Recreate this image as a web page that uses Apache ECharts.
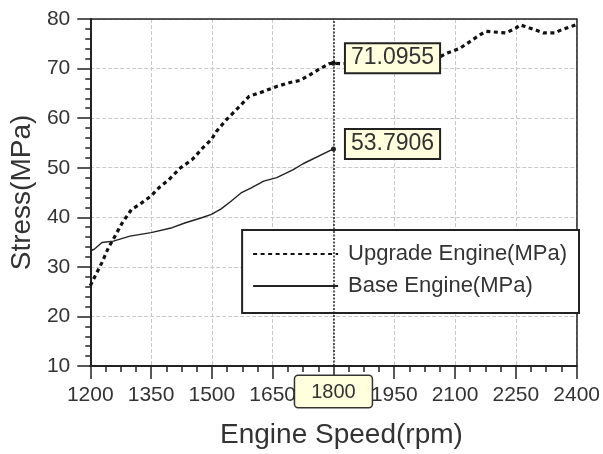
<!DOCTYPE html>
<html>
<head>
<meta charset="utf-8">
<title>Stress vs Engine Speed</title>
<script src="https://cdn.jsdelivr.net/npm/echarts@6/dist/echarts.min.js"></script>
<style>
  html, body { margin: 0; padding: 0; background: #fff; }
  #chart { width: 603px; height: 454px; }
</style>
</head>
<body>
<div id="chart"></div>
<script>
// data
var upgradeRpm = [1200, 1229, 1245, 1261, 1277, 1290, 1302, 1322, 1350, 1370, 1394, 1423, 1451, 1480,
                  1499, 1511, 1536, 1564, 1592, 1628, 1660, 1693, 1717, 1741, 1765, 1790, 1800, 1820,
                  1900, 2000, 2056, 2080, 2112, 2136, 2161, 2177, 2225, 2249, 2261, 2273, 2298, 2318,
                  2346, 2362, 2390, 2400];
var upgradeStress = [26.2, 30.9, 33.9, 36.2, 38.6, 40.2, 41.6, 42.6, 44.3, 46.0, 47.6, 50.0, 51.6, 54.2,
                     55.7, 57.3, 59.7, 62.0, 64.4, 65.4, 66.4, 67.2, 67.6, 68.7, 69.9, 71.0, 71.0955, 71.0,
                     71.3, 71.7, 72.1, 73.1, 74.1, 75.4, 76.8, 77.5, 77.2, 78.1, 78.8, 78.5, 77.8, 77.2,
                     77.2, 77.8, 78.6, 78.9];

var baseRpm = [1200, 1209, 1229, 1257, 1298, 1350, 1402, 1435, 1475, 1499, 1523, 1548, 1572, 1596,
               1628, 1660, 1701, 1725, 1800];
var baseStress = [33.3, 33.5, 34.9, 35.2, 36.2, 36.9, 37.9, 38.9, 39.9, 40.6, 41.7, 43.3, 44.9, 45.9,
                  47.3, 48.0, 49.6, 50.8, 53.7906];

var seriesNames = ['Upgrade Engine(MPa)', 'Base Engine(MPa)'];
var cursorRpm = 1800;

function pairs(xs, ys) {
  return xs.map(function (x, i) { return [x, ys[i]]; });
}

function cursorPoint(xs, ys) {
  var i = xs.indexOf(cursorRpm);
  return { coord: [xs[i], ys[i]], value: ys[i] };
}

// plain numbers, no thousands separator
function plain(v) { return String(Math.round(v)); }

var boxLabel = {
  show: true,
  position: 'right',
  distance: 10,
  offset: [0, -5],
  formatter: function (p) { return p.value.toFixed(4); },
  fontFamily: 'Liberation Sans',
  fontSize: 23,
  color: '#333',
  backgroundColor: '#ffffdd',
  borderColor: '#222',
  borderWidth: 2,
  padding: [3, 5, 2, 5]
};

// top and right edges of the plot frame
var frameLine = { show: true, lineStyle: { color: '#222', width: 1.5 } };

var chart = echarts.init(document.getElementById('chart'));

var option = {
  animation: false,
  textStyle: { fontFamily: 'Liberation Sans' },
  grid: {
    left: 83, right: 24, top: 19, bottom: 87,
    containLabel: false
  },
  legend: {
    data: seriesNames,
    orient: 'vertical',
    right: 24,
    top: 230,
    padding: [13, 12, 16, 10],
    itemGap: 10,
    itemWidth: 85,
    itemHeight: 4,
    backgroundColor: '#fff',
    borderColor: '#222',
    borderWidth: 2,
    borderRadius: 0,
    itemStyle: { opacity: 0 },
    textStyle: { fontSize: 22, color: '#333', padding: [0, 0, 0, 5] }
  },
  xAxis: [{
    type: 'value',
    min: 1200, max: 2400, interval: 150,
    name: 'Engine Speed(rpm)',
    nameLocation: 'middle',
    nameGap: 55,
    nameTextStyle: { fontSize: 28, color: '#333', padding: [0, 0, 0, 16] },
    axisLine: { show: true, lineStyle: { color: '#222', width: 2 } },
    axisTick: { show: true, inside: false, length: 13, lineStyle: { color: '#222', width: 1.5 } },
    minorTick: { show: true, splitNumber: 4, length: 6, lineStyle: { color: '#222', width: 1.5 } },
    axisLabel: { fontSize: 21, color: '#333', margin: 19, formatter: plain },
    splitLine: { show: true, lineStyle: { color: '#c8c8c8', type: [4, 2], width: 1 } },
    axisPointer: {
      show: true,
      type: 'line',
      value: cursorRpm,
      status: 'show',
      snap: false,
      triggerTooltip: false,
      lineStyle: { color: '#222', width: 1.5, type: [2, 1.5] },
      label: {
        show: true,
        formatter: function (p) { return plain(p.value); },
        margin: 10,
        fontFamily: 'Liberation Sans',
        fontSize: 20,
        color: '#333',
        backgroundColor: '#ffffdd',
        borderColor: '#333',
        borderWidth: 1.5,
        padding: [6, 16, 5, 16],
        shadowBlur: 0
      }
    }
  }, {
    type: 'value', position: 'top',
    min: 1200, max: 2400,
    axisLine: frameLine, axisTick: { show: false }, axisLabel: { show: false },
    splitLine: { show: false }, axisPointer: { show: false }
  }],
  yAxis: [{
    type: 'value',
    min: 10, max: 80, interval: 10,
    name: 'Stress(MPa)',
    nameLocation: 'middle',
    nameGap: 41,
    nameTextStyle: { fontSize: 28, color: '#333' },
    axisLine: { show: true, lineStyle: { color: '#222', width: 2 } },
    axisTick: { show: true, inside: false, length: 13, lineStyle: { color: '#222', width: 1.5 } },
    minorTick: { show: true, splitNumber: 5, length: 5, lineStyle: { color: '#222', width: 1.5 } },
    axisLabel: { fontSize: 21, color: '#333', margin: 20, formatter: plain },
    splitLine: { show: true, lineStyle: { color: '#c8c8c8', type: [4, 2], width: 1 } }
  }, {
    type: 'value', position: 'right',
    min: 10, max: 80,
    axisLine: frameLine, axisTick: { show: false }, axisLabel: { show: false },
    splitLine: { show: false }
  }],
  series: [
    {
      name: seriesNames[0],
      type: 'line',
      symbol: 'none',
      data: pairs(upgradeRpm, upgradeStress),
      lineStyle: { color: '#111', width: 3.2, type: [4, 3.5] },
      itemStyle: { color: '#111' },
      markPoint: {
        symbol: 'circle',
        symbolSize: 5,
        itemStyle: { color: '#111' },
        label: boxLabel,
        data: [cursorPoint(upgradeRpm, upgradeStress)]
      },
      z: 3
    },
    {
      name: seriesNames[1],
      type: 'line',
      symbol: 'none',
      data: pairs(baseRpm, baseStress),
      lineStyle: { color: '#222', width: 1.4 },
      itemStyle: { color: '#222' },
      markPoint: {
        symbol: 'circle',
        symbolSize: 5,
        itemStyle: { color: '#222' },
        label: boxLabel,
        data: [cursorPoint(baseRpm, baseStress)]
      },
      z: 3
    }
  ]
};

chart.setOption(option);
</script>
</body>
</html>
